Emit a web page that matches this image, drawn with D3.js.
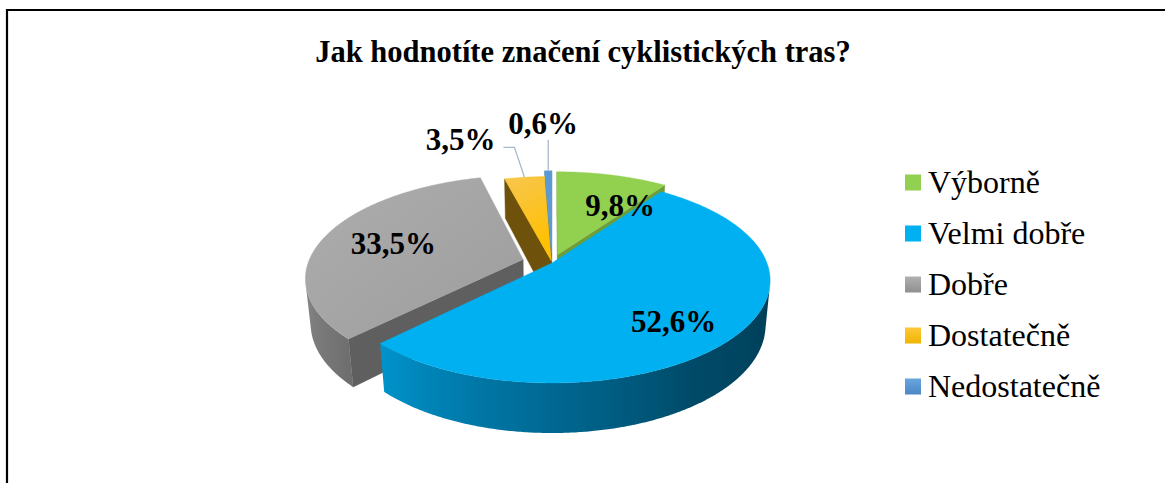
<!DOCTYPE html>
<html><head><meta charset="utf-8">
<script src="https://cdn.jsdelivr.net/npm/d3@7"></script>
<style>html,body{margin:0;padding:0;background:#fff;}svg{display:block;}</style>
</head><body>
<svg id="chart" width="1165" height="483"></svg>
<script>
// ---- data ----
const categories = ["Výborně", "Velmi dobře", "Dobře", "Dostatečně", "Nedostatečně"];
const values = [9.8, 52.6, 33.5, 3.5, 0.6];
const valueLabels = ["9,8%", "52,6%", "33,5%", "3,5%", "0,6%"];
const title = "Jak hodnotíte značení cyklistických tras?";

// ---- styling / geometry config ----
const explode = [0.09, 0, 0.14, 0.02, 0.1];
const topColors = ["#92D050", "#00B0F0", "#A5A5A5", "#FFC000", "#5B9BD5"];
const faceColors = ["#6f9e36", "#006890", "#5f5f5f", "#6e520c", "#3e6d98"];
const sideScales = [
  d3.scaleLinear().domain([0, 360]).range(["#6f9e36", "#6f9e36"]),
  d3.scaleLinear().domain([90, 145, 198, 226]).range(["#003a52", "#004a68", "#0078a8", "#0094cc"]).clamp(true),
  d3.scaleLinear().domain([224, 275]).range(["#6e6e6e", "#919191"]).clamp(true),
  d3.scaleLinear().domain([0, 360]).range(["#9a7410", "#9a7410"]),
  d3.scaleLinear().domain([0, 360]).range(["#3e6d98", "#3e6d98"])
];
const insideLabel = {0: [30, 0.65], 1: [136, 0.74], 2: [285, 0.65]};
const serif = "'Liberation Serif', 'Times New Roman', Times, serif";

const svg = d3.select("#chart");
const defs = svg.append("defs");

// frame
svg.append("path").attr("d", "M7,495V10H1175").attr("fill", "none").attr("stroke", "#000").attr("stroke-width", 2.2);

// title
svg.append("text").attr("x", 583).attr("y", 62).attr("text-anchor", "middle")
  .attr("font-family", serif).attr("font-weight", "bold")
  .attr("font-size", 30.5).attr("fill", "#000").text(title);

// ---- projection ----
const cx = 552, cy = 263, f = 1120, D = 5.21, sp = 0.463, cp = Math.sqrt(1 - sp * sp), H = 0.237;
const cam = [0, D * sp, D * cp];
function proj(p) {
  const [X, Y, Z] = p;
  const up = Y * cp - Z * sp;
  const depth = D - (Y * sp + Z * cp);
  return [cx + f * X / depth, cy - f * up / depth];
}
function dist(p) { return Math.hypot(p[0] - cam[0], p[1] - cam[1], p[2] - cam[2]); }
function centroid(pts) {
  return pts.reduce((acc, p) => [acc[0] + p[0], acc[1] + p[1], acc[2] + p[2]], [0, 0, 0]).map(v => v / pts.length);
}

const pie = d3.pie().sort(null).value(d => d)(values);

const sides = [], tops = [];
pie.forEach((s, i) => {
  const a0 = s.startAngle, a1 = s.endAngle, m = (a0 + a1) / 2;
  const ex = explode[i] * Math.sin(m), ez = -explode[i] * Math.cos(m);
  const P = (a, r, y) => [ex + r * Math.sin(a), y, ez - r * Math.cos(a)];
  const n = Math.max(4, Math.ceil((a1 - a0) / (Math.PI / 360)));
  const topPts = [P(0, 0, 0)];
  for (let k = 0; k <= n; k++) topPts.push(P(a0 + (a1 - a0) * k / n, 1, 0));
  tops.push({pts: topPts, d: dist(centroid(topPts)), i});
  // outer side: collect visible angle samples into one polygon
  const vis = [];
  for (let k = 0; k <= n; k++) {
    const b = a0 + (a1 - a0) * k / n;
    const pm = P(b, 1, -H / 2);
    const nrm = [Math.sin(b), 0, -Math.cos(b)];
    const v = [cam[0] - pm[0], cam[1] - pm[1], cam[2] - pm[2]];
    if (nrm[0] * v[0] + nrm[2] * v[2] > 0) vis.push(b);
  }
  if (vis.length > 1) {
    const pts = vis.map(b => P(b, 1, 0)).concat(vis.slice().reverse().map(b => P(b, 1, -H)));
    const xs = vis.map(b => proj(P(b, 1, -H / 2))[0]);
    const x0 = d3.min(xs), x1 = d3.max(xs);
    const gid = "side" + i;
    const g = defs.append("linearGradient").attr("id", gid).attr("gradientUnits", "userSpaceOnUse")
      .attr("x1", x0).attr("y1", 0).attr("x2", x1).attr("y2", 0);
    const stops = vis.filter((b, k) => k % 6 === 0 || k === vis.length - 1)
      .map(b => [(proj(P(b, 1, -H / 2))[0] - x0) / Math.max(1, x1 - x0), sideScales[i](b * 180 / Math.PI)])
      .sort((p, q) => p[0] - q[0]);
    stops.forEach(([o, c]) => g.append("stop").attr("offset", o).attr("stop-color", c));
    sides.push({pts, d: dist(centroid(pts)), color: `url(#${gid})`, stroke: "none"});
  }
  // radial faces
  [[a0, -1], [a1, 1]].forEach(([a, sgn]) => {
    const na = a + sgn * Math.PI / 2;
    const nrm = [Math.sin(na), 0, -Math.cos(na)];
    const pm = P(a, 0.5, -H / 2);
    const v = [cam[0] - pm[0], cam[1] - pm[1], cam[2] - pm[2]];
    if (nrm[0] * v[0] + nrm[2] * v[2] <= 0) return;
    sides.push({pts: [P(a, 0, 0), P(a, 1, 0), P(a, 1, -H), P(a, 0, -H)], d: dist(pm), color: faceColors[i], stroke: faceColors[i]});
  });
});

const line = d3.line();
sides.sort((a, b) => b.d - a.d);
svg.append("g").selectAll("path").data(sides).join("path")
  .attr("d", d => line(d.pts.map(proj)) + "Z")
  .attr("fill", d => d.color).attr("stroke", d => d.stroke).attr("stroke-width", 0.5).attr("stroke-linejoin", "round");

function grad(id, x1, y1, x2, y2, stops) {
  const g = defs.append("linearGradient").attr("id", id).attr("x1", x1).attr("y1", y1).attr("x2", x2).attr("y2", y2);
  stops.forEach(([o, c]) => g.append("stop").attr("offset", o).attr("stop-color", c));
}
grad("gTop2", 0, 0, 1, 1, [[0, "#adadad"], [1, "#9d9d9d"]]);
grad("gTop3", 0, 0, 0.3, 1, [[0, "#f7c650"], [1, "#ffc000"]]);
grad("gLeg2", 0, 0, 0, 1, [[0, "#b0b0b0"], [1, "#8f8f8f"]]);
grad("gLeg3", 0, 0, 0, 1, [[0, "#ffc83a"], [1, "#f0b400"]]);
grad("gLeg4", 0, 0, 0, 1, [[0, "#6aa6dc"], [1, "#4a88c4"]]);
const topFill = i => i === 2 ? "url(#gTop2)" : i === 3 ? "url(#gTop3)" : topColors[i];
const legFill = i => i === 2 ? "url(#gLeg2)" : i === 3 ? "url(#gLeg3)" : i === 4 ? "url(#gLeg4)" : topColors[i];

tops.sort((a, b) => b.d - a.d);
svg.append("g").selectAll("path").data(tops).join("path")
  .attr("d", d => line(d.pts.map(proj)) + "Z")
  .attr("fill", d => topFill(d.i)).attr("stroke", d => topColors[d.i]).attr("stroke-width", 0.4);

// ---- data labels ----
const lg = svg.append("g").attr("font-family", serif).attr("font-weight", "bold").attr("font-size", 31).attr("fill", "#000");
pie.forEach((s, i) => {
  const m = (s.startAngle + s.endAngle) / 2;
  const ex = explode[i] * Math.sin(m), ez = -explode[i] * Math.cos(m);
  if (insideLabel[i]) {
    const [deg, r] = insideLabel[i];
    const a = deg * Math.PI / 180;
    const [x, y] = proj([ex + r * Math.sin(a), 0, ez - r * Math.cos(a)]);
    lg.append("text").attr("x", x).attr("y", y + 11).attr("text-anchor", "middle").text(valueLabels[i]);
  } else {
    const [x, y] = proj([ex + Math.sin(m), 0, ez - Math.cos(m)]);
    if (i === 3) {
      svg.append("path").attr("d", `M${x},${y}L${x - 10},${y - 30}H${x - 21}`)
        .attr("fill", "none").attr("stroke", "#a9b9cc").attr("stroke-width", 1.3);
      lg.append("text").attr("x", x - 29).attr("y", y - 27).attr("text-anchor", "end").text(valueLabels[i]);
    } else {
      svg.append("path").attr("d", `M${x},${y}V${y - 31}`)
        .attr("fill", "none").attr("stroke", "#a9b9cc").attr("stroke-width", 1.3);
      lg.append("text").attr("x", x - 5).attr("y", y - 37).attr("text-anchor", "middle").text(valueLabels[i]);
    }
  }
});

// ---- legend ----
const ly = d3.scaleBand().domain(categories).range([157, 412]);
const leg = svg.append("g").selectAll("g").data(categories).join("g")
  .attr("transform", d => `translate(905,${ly(d) + ly.bandwidth() / 2})`);
leg.append("rect").attr("x", 0).attr("y", -8).attr("width", 16).attr("height", 16).attr("fill", (d, i) => legFill(i));
leg.append("text").attr("x", 23).attr("y", 10).attr("font-family", serif).attr("font-size", 32).attr("fill", "#000").text(d => d);
</script>
</body></html>
